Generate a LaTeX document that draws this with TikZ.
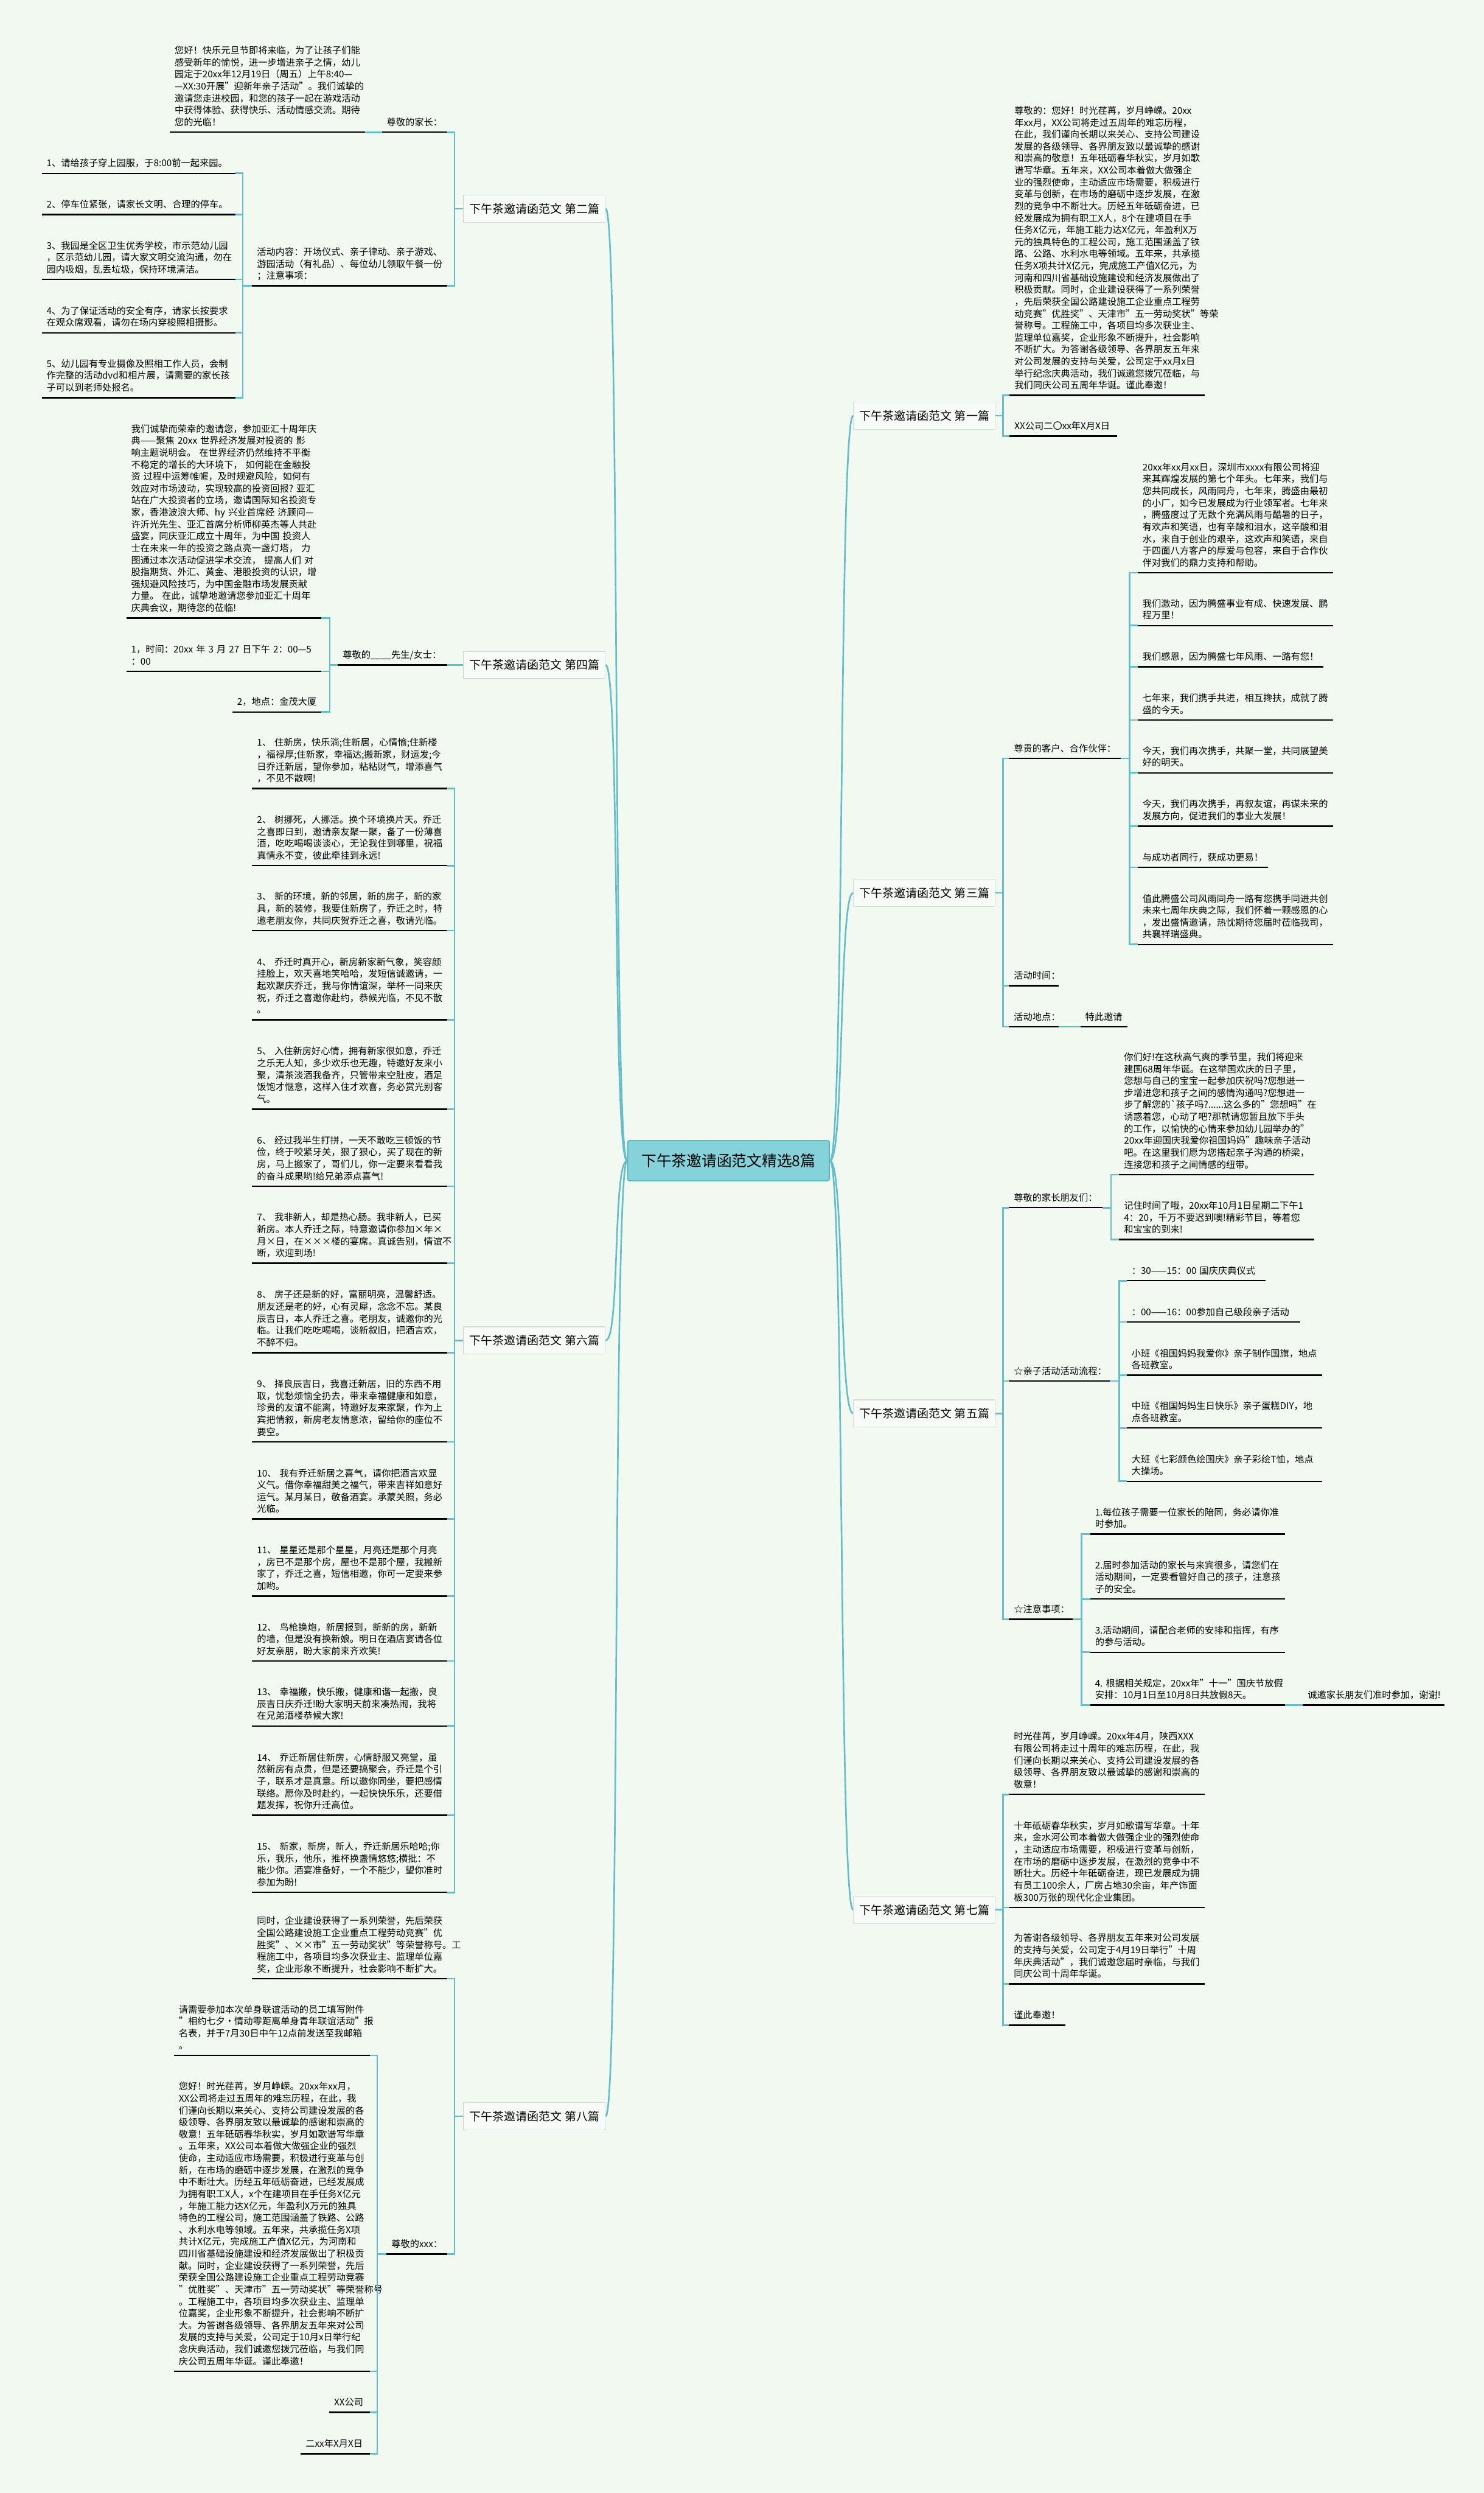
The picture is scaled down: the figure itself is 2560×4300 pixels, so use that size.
\documentclass[tikz,border=0pt]{standalone}
\usepackage{fontspec}
\setmainfont{Noto Sans CJK SC}
\definecolor{bgc}{HTML}{F1F9F1}
\definecolor{tealc}{HTML}{66BFC8}
\definecolor{boxline}{HTML}{D5DDD5}
\definecolor{boxfill}{HTML}{F8FCF8}
\definecolor{rootfill}{HTML}{86D2DA}
\definecolor{rootline}{HTML}{5DB7C1}
\newcommand\tn[5]{%
  \pgfmathsetmacro\tnw{(#3-#2-16)*0.5}%
  \node[tnode,text width=\tnw pt] (#1) at (#2,#4) {#5};
  \draw[uline] (#1.south west) -- (#1.south east);}
\begin{document}
\begin{tikzpicture}[x=0.5pt,y=-0.5pt,
  conn/.style={draw=tealc,line width=1.4pt},
  uline/.style={draw=black,line width=1.3pt},
  tnode/.style={anchor=south west,inner xsep=4pt,inner ysep=0pt,align=left,
    font={\fontsize{8pt}{10.3pt}\selectfont\hyphenpenalty=10000 \exhyphenpenalty=10000 },
    execute at end node={\rule[-5.5pt]{0pt}{5.5pt}}},
  lvl/.style={draw=boxline,fill=boxfill,line width=0.6pt,
    font={\fontsize{10pt}{12pt}\selectfont},minimum height=23.5pt,inner xsep=5pt,inner ysep=0pt},
  root/.style={draw=rootline,fill=rootfill,line width=1pt,rounded corners=1.5pt,
    font={\fontsize{13pt}{15pt}\selectfont},minimum width=174pt,minimum height=34.5pt}]
\fill[bgc] (0,0) rectangle (2560,4300);
\useasboundingbox (0,0) rectangle (2560,4300);

% ---------- centre and level-1 labels ----------
\node[root] (C) at (1257,2002) {下午茶邀请函范文精选8篇};
\node[lvl,anchor=east] (L2) at (1045,360) {下午茶邀请函范文 第二篇};
\node[lvl,anchor=east] (L4) at (1045,1147) {下午茶邀请函范文 第四篇};
\node[lvl,anchor=east] (L6) at (1045,2312) {下午茶邀请函范文 第六篇};
\node[lvl,anchor=east] (L8) at (1045,3650) {下午茶邀请函范文 第八篇};
\node[lvl,anchor=west] (L1) at (1472,717) {下午茶邀请函范文 第一篇};
\node[lvl,anchor=west] (L3) at (1472,1540) {下午茶邀请函范文 第三篇};
\node[lvl,anchor=west] (L5) at (1472,2438) {下午茶邀请函范文 第五篇};
\node[lvl,anchor=west] (L7) at (1472,3294) {下午茶邀请函范文 第七篇};
\foreach \n in {L2,L4,L6,L8} \draw[conn] (C.west) .. controls +(-25,0) and +(25,0) .. (\n.east);
\foreach \n in {L1,L3,L5,L7} \draw[conn] (C.east) .. controls +(25,0) and +(-25,0) .. (\n.west);

% ---------- 第二篇 ----------
\tn{n2a}{659}{771}{228}{尊敬的家长：}
\tn{n2b}{293}{629}{228}{您好！快乐元旦节即将来临，为了让孩子们能\\感受新年的愉悦，进一步增进亲子之情，幼儿\\园定于20xx年12月19日（周五）上午8:40—\\\mbox{—XX:30开展"迎新年亲子活动"。我们诚挚的}\\邀请您走进校园，和您的孩子一起在游戏活动\\中获得体验、获得快乐、活动情感交流。期待\\您的光临！}
\tn{n2c}{435}{771}{493}{活动内容：开场仪式、亲子律动、亲子游戏、\\游园活动（有礼品）、每位幼儿领取午餐一份\\；注意事项：}
\tn{n2i1}{72}{405}{299}{1、请给孩子穿上园服，于8:00前一起来园。}
\tn{n2i2}{72}{405}{370}{2、停车位紧张，请家长文明、合理的停车。}
\tn{n2i3}{72}{405}{482}{3、我园是全区卫生优秀学校，市示范幼儿园\\，区示范幼儿园，请大家文明交流沟通，勿在\\园内吸烟，乱丢垃圾，保持环境清洁。}
\tn{n2i4}{72}{405}{574}{4、为了保证活动的安全有序，请家长按要求\\在观众席观看，请勿在场内穿梭照相摄影。}
\tn{n2i5}{72}{405}{686}{5、幼儿园有专业摄像及照相工作人员，会制\\作完整的活动dvd和相片展，请需要的家长孩\\子可以到老师处报名。}
\draw[conn] (L2.west) -- ++(-15,0) |- (n2a.south east);
\draw[conn] (L2.west) -- ++(-15,0) |- (n2c.south east);
\draw[conn] (n2a.south west) -- (n2b.south east);
\foreach \i in {1,...,5} \draw[conn] (n2c.south west) -- ++(-16,0) |- (n2i\i.south east);

% ---------- 第四篇 ----------
\tn{n4a}{583}{771}{1147}{尊敬的\_\_\_\_先生/女士：}
\tn{n4b}{218}{554}{1066}{我们诚挚而荣幸的邀请您，参加亚汇十周年庆\\\mbox{典——聚焦~20xx~世界经济发展对投资的~影}\\响主题说明会。~在世界经济仍然维持不平衡\\不稳定的增长的大环境下，~如何能在金融投\\资~过程中运筹帷幄，及时规避风险，如何有\\效应对市场波动，实现较高的投资回报?~亚汇\\站在广大投资者的立场，邀请国际知名投资专\\\mbox{家，香港波浪大师、hy~兴业首席经~济顾问—}\\许沂光先生、亚汇首席分析师柳英杰等人共赴\\盛宴，同庆亚汇成立十周年，为中国~投资人\\士在未来一年的投资之路点亮一盏灯塔，~力\\图通过本次活动促进学术交流，~提高人们~对\\股指期货、外汇、黄金、港股投资的认识，增\\强规避风险技巧，为中国金融市场发展贡献\\力量。~在此，诚挚地邀请您参加亚汇十周年\\庆典会议，期待您的莅临!}
\tn{n4c}{218}{554}{1158}{\mbox{1，时间：20xx~年~3~月~27~日下午~2：00—5}\\：00}
\tn{n4d}{401}{554}{1228}{2，地点：金茂大厦}
\draw[conn] (L4.west) -- (n4a.south east);
\foreach \n in {n4b,n4c,n4d} \draw[conn] (n4a.south west) -- ++(-14,0) |- (\n.south east);

% ---------- 第六篇 ----------
\tn{n6i1}{435}{771}{1360}{1、~住新房，快乐淌;住新居，心情愉;住新楼\\，福禄厚;住新家，幸福达;搬新家，财运发;今\\日乔迁新居，望你参加，粘粘财气，增添喜气\\，不见不散啊!}
\tn{n6i2}{435}{771}{1493}{2、~树挪死，人挪活。换个环境换片天。乔迁\\之喜即日到，邀请亲友聚一聚，备了一份薄喜\\酒，吃吃喝喝谈谈心，无论我住到哪里，祝福\\真情永不变，彼此牵挂到永远!}
\tn{n6i3}{435}{771}{1605}{3、~新的环境，新的邻居，新的房子，新的家\\具，新的装修，我要住新房了，乔迁之时，特\\邀老朋友你，共同庆贺乔迁之喜，敬请光临。}
\tn{n6i4}{435}{771}{1759}{4、~乔迁时真开心，新房新家新气象，笑容颜\\挂脸上，欢天喜地笑哈哈，发短信诚邀请，一\\起欢聚庆乔迁，我与你情谊深，举杯一同来庆\\祝，乔迁之喜邀你赴约，恭候光临，不见不散\\。}
\tn{n6i5}{435}{771}{1913}{5、~入住新房好心情，拥有新家很如意，乔迁\\之乐无人知，多少欢乐也无趣，特邀好友来小\\聚，清茶淡酒我备齐，只管带来空肚皮，酒足\\饭饱才惬意，这样入住才欢喜，务必赏光别客\\气。}
\tn{n6i6}{435}{771}{2046}{6、~经过我半生打拼，一天不敢吃三顿饭的节\\俭，终于咬紧牙关，狠了狠心，买了现在的新\\房，马上搬家了，哥们儿，你一定要来看看我\\的奋斗成果哟!给兄弟添点喜气!}
\tn{n6i7}{435}{771}{2179}{7、~我非新人，却是热心肠。我非新人，已买\\新房。本人乔迁之际，特意邀请你参加×年×\\月×日，在×××楼的宴席。真诚告别，情谊不\\断，欢迎到场!}
\tn{n6i8}{435}{771}{2333}{8、~房子还是新的好，富丽明亮，温馨舒适。\\朋友还是老的好，心有灵犀，念念不忘。某良\\辰吉日，本人乔迁之喜。老朋友，诚邀你的光\\临。让我们吃吃喝喝，谈新叙旧，把酒言欢，\\不醉不归。}
\tn{n6i9}{435}{771}{2487}{9、~择良辰吉日，我喜迁新居，旧的东西不用\\取，忧愁烦恼全扔去，带来幸福健康和如意，\\珍贵的友谊不能离，特邀好友来家聚，作为上\\宾把情叙，新房老友情意浓，留给你的座位不\\要空。}
\tn{n6i10}{435}{771}{2620}{10、~我有乔迁新居之喜气，请你把酒言欢显\\义气。借你幸福甜美之福气，带来吉祥如意好\\运气。某月某日，敬备酒宴。承蒙关照，务必\\光临。}
\tn{n6i11}{435}{771}{2753}{11、~星星还是那个星星，月亮还是那个月亮\\，房已不是那个房，屋也不是那个屋，我搬新\\家了，乔迁之喜，短信相邀，你可一定要来参\\加哟。}
\tn{n6i12}{435}{771}{2865}{12、~鸟枪换炮，新居报到，新新的房，新新\\的墙，但是没有换新娘。明日在酒店宴请各位\\好友亲朋，盼大家前来齐欢笑!}
\tn{n6i13}{435}{771}{2977}{13、~幸福搬，快乐搬，健康和谐一起搬，良\\辰吉日庆乔迁!盼大家明天前来凑热闹，我将\\在兄弟酒楼恭候大家!}
\tn{n6i14}{435}{771}{3131}{14、~乔迁新居住新房，心情舒服又亮堂，虽\\然新房有点贵，但是还要搞聚会，乔迁是个引\\子，联系才是真意。所以邀你同坐，要把感情\\联络。愿你及时赴约，一起快快乐乐，还要借\\题发挥，祝你升迁高位。}
\tn{n6i15}{435}{771}{3264}{15、~新家，新房，新人，乔迁新居乐哈哈;你\\乐，我乐，他乐，推杯换盏情悠悠;横批：不\\能少你。酒宴准备好，一个不能少，望你准时\\参加为盼!}
\foreach \i in {1,...,15} \draw[conn] (L6.west) -- ++(-15,0) |- (n6i\i.south east);

% ---------- 第八篇 ----------
\tn{n8a}{435}{771}{3413}{同时，企业建设获得了一系列荣誉，先后荣获\\全国公路建设施工企业重点工程劳动竞赛"优\\胜奖"、××市"五一劳动奖状"等荣誉称号。工\\程施工中，各项目均多次获业主、监理单位嘉\\奖，企业形象不断提升，社会影响不断扩大。}
\tn{n8b}{667}{771}{3888}{尊敬的xxx：}
\tn{n8c}{300}{637}{3545}{请需要参加本次单身联谊活动的员工填写附件\\"相约七夕·情动零距离单身青年联谊活动"报\\名表，并于7月30日中午12点前发送至我邮箱\\。}
\tn{n8d}{300}{637}{4090}{您好！时光荏苒，岁月峥嵘。20xx年xx月，\\XX公司将走过五周年的难忘历程，在此，我\\们谨向长期以来关心、支持公司建设发展的各\\级领导、各界朋友致以最诚挚的感谢和崇高的\\敬意！五年砥砺春华秋实，岁月如歌谱写华章\\。五年来，XX公司本着做大做强企业的强烈\\使命，主动适应市场需要，积极进行变革与创\\新，在市场的磨砺中逐步发展，在激烈的竞争\\中不断壮大。历经五年砥砺奋进，已经发展成\\为拥有职工X人，x个在建项目在手任务X亿元\\，年施工能力达X亿元，年盈利X万元的独具\\特色的工程公司，施工范围涵盖了铁路、公路\\、水利水电等领域。五年来，共承揽任务X项\\共计X亿元，完成施工产值X亿元，为河南和\\四川省基础设施建设和经济发展做出了积极贡\\献。同时，企业建设获得了一系列荣誉，先后\\荣获全国公路建设施工企业重点工程劳动竞赛\\"优胜奖"、天津市"五一劳动奖状"等荣誉称号\\。工程施工中，各项目均多次获业主、监理单\\位嘉奖，企业形象不断提升，社会影响不断扩\\大。为答谢各级领导、各界朋友五年来对公司\\发展的支持与关爱，公司定于10月x日举行纪\\念庆典活动，我们诚邀您拨冗莅临，与我们同\\庆公司五周年华诞。谨此奉邀！}
\tn{n8e}{568}{637}{4161}{XX公司}
\tn{n8f}{519}{637}{4232}{二xx年X月X日}
\draw[conn] (L8.west) -- ++(-15,0) |- (n8a.south east);
\draw[conn] (L8.west) -- ++(-15,0) |- (n8b.south east);
\foreach \n in {n8c,n8d,n8e,n8f} \draw[conn] (n8b.south west) -- ++(-16,0) |- (\n.south east);

% ---------- 第一篇 ----------
\tn{n1a}{1742}{2078}{682}{尊敬的：您好！时光荏苒，岁月峥嵘。20xx\\年xx月，XX公司将走过五周年的难忘历程，\\在此，我们谨向长期以来关心、支持公司建设\\发展的各级领导、各界朋友致以最诚挚的感谢\\和崇高的敬意！五年砥砺春华秋实，岁月如歌\\谱写华章。五年来，XX公司本着做大做强企\\业的强烈使命，主动适应市场需要，积极进行\\变革与创新，在市场的磨砺中逐步发展，在激\\烈的竞争中不断壮大。历经五年砥砺奋进，已\\经发展成为拥有职工X人，8个在建项目在手\\任务X亿元，年施工能力达X亿元，年盈利X万\\元的独具特色的工程公司，施工范围涵盖了铁\\路、公路、水利水电等领域。五年来，共承揽\\任务X项共计X亿元，完成施工产值X亿元，为\\河南和四川省基础设施建设和经济发展做出了\\积极贡献。同时，企业建设获得了一系列荣誉\\，先后荣获全国公路建设施工企业重点工程劳\\动竞赛"优胜奖"、天津市"五一劳动奖状"等荣\\誉称号。工程施工中，各项目均多次获业主、\\监理单位嘉奖，企业形象不断提升，社会影响\\不断扩大。为答谢各级领导、各界朋友五年来\\对公司发展的支持与关爱，公司定于xx月x日\\举行纪念庆典活动，我们诚邀您拨冗莅临，与\\我们同庆公司五周年华诞。谨此奉邀！}
\tn{n1b}{1742}{1927}{752}{XX公司二〇xx年X月X日}
\foreach \n in {n1a,n1b} \draw[conn] (L1.east) -- ++(13,0) |- (\n.south west);

% ---------- 第三篇 ----------
\tn{n3a}{1741}{1933}{1308}{尊贵的客户、合作伙伴：}
\tn{n3b}{1741}{1826}{1700}{活动时间：}
\tn{n3c}{1741}{1826}{1771}{活动地点：}
\tn{n3d}{1864}{1944}{1771}{特此邀请}
\tn{n3a1}{1963}{2299}{988}{20xx年xx月xx日，深圳市xxxx有限公司将迎\\来其辉煌发展的第七个年头。七年来，我们与\\您共同成长，风雨同舟，七年来，腾盛由最初\\的小厂，如今已发展成为行业领军者。七年来\\，腾盛度过了无数个充满风雨与酷暑的日子，\\有欢声和笑语，也有辛酸和泪水，这辛酸和泪\\水，来自于创业的艰辛，这欢声和笑语，来自\\于四面八方客户的厚爱与包容，来自于合作伙\\伴对我们的鼎力支持和帮助。}
\tn{n3a2}{1963}{2299}{1079}{我们激动，因为腾盛事业有成、快速发展、鹏\\程万里！}
\tn{n3a3}{1963}{2283}{1150}{我们感恩，因为腾盛七年风雨、一路有您！}
\tn{n3a4}{1963}{2299}{1242}{七年来，我们携手共进，相互搀扶，成就了腾\\盛的今天。}
\tn{n3a5}{1963}{2299}{1333}{今天，我们再次携手，共聚一堂，共同展望美\\好的明天。}
\tn{n3a6}{1963}{2299}{1425}{今天，我们再次携手，再叙友谊，再谋未来的\\发展方向，促进我们的事业大发展！}
\tn{n3a7}{1963}{2187}{1496}{与成功者同行，获成功更易！}
\tn{n3a8}{1963}{2299}{1629}{值此腾盛公司风雨同舟一路有您携手同进共创\\未来七周年庆典之际，我们怀着一颗感恩的心\\，发出盛情邀请，热忱期待您届时莅临我司，\\共襄祥瑞盛典。}
\foreach \n in {n3a,n3b,n3c} \draw[conn] (L3.east) -- ++(13,0) |- (\n.south west);
\foreach \i in {1,...,8} \draw[conn] (n3a.south east) -- ++(15,0) |- (n3a\i.south west);
\draw[conn] (n3c.south east) -- (n3d.south west);

% ---------- 第五篇 ----------
\tn{n5a}{1741}{1901}{2083}{尊敬的家长朋友们：}
\tn{n5a1}{1931}{2267}{2026}{你们好!在这秋高气爽的季节里，我们将迎来\\建国68周年华诞。在这举国欢庆的日子里，\\您想与自己的宝宝一起参加庆祝吗?您想进一\\步增进您和孩子之间的感情沟通吗?您想进一\\\mbox{步了解您的\textasciigrave{}孩子吗?......这么多的"您想吗"在}\\诱惑着您，心动了吧?那就请您暂且放下手头\\的工作，以愉快的心情来参加幼儿园举办的"\\20xx年迎国庆我爱你祖国妈妈"趣味亲子活动\\吧。在这里我们愿为您搭起亲子沟通的桥梁，\\连接您和孩子之间情感的纽带。}
\tn{n5a2}{1931}{2267}{2138}{记住时间了哦，20xx年10月1日星期二下午1\\4：20，千万不要迟到噢!精彩节目，等着您\\和宝宝的到来!}
\tn{n5b}{1741}{1914}{2382}{☆亲子活动活动流程：}
\tn{n5b1}{1944}{2183}{2209}{\mbox{：30——15：00~国庆庆典仪式}}
\tn{n5b2}{1944}{2243}{2280}{\mbox{：00——16：00参加自己级段亲子活动}}
\tn{n5b3}{1944}{2280}{2372}{小班《祖国妈妈我爱你》亲子制作国旗，地点\\各班教室。}
\tn{n5b4}{1944}{2280}{2463}{中班《祖国妈妈生日快乐》亲子蛋糕DIY，地\\点各班教室。}
\tn{n5b5}{1944}{2280}{2555}{大班《七彩颜色绘国庆》亲子彩绘T恤，地点\\大操场。}
\tn{n5c}{1741}{1850}{2793}{☆注意事项：}
\tn{n5c1}{1881}{2216}{2646}{1.每位孩子需要一位家长的陪同，务必请你准\\时参加。}
\tn{n5c2}{1881}{2216}{2758}{2.届时参加活动的家长与来宾很多，请您们在\\活动期间，一定要看管好自己的孩子，注意孩\\子的安全。}
\tn{n5c3}{1881}{2216}{2850}{3.活动期间，请配合老师的安排和指挥，有序\\的参与活动。}
\tn{n5c4}{1881}{2216}{2941}{\mbox{4.~根据相关规定，20xx年"十一"国庆节放假}\\安排：10月1日至10月8日共放假8天。}
\tn{n5d}{2248}{2491}{2941}{诚邀家长朋友们准时参加，谢谢!}
\foreach \n in {n5a,n5b,n5c} \draw[conn] (L5.east) -- ++(13,0) |- (\n.south west);
\foreach \n in {n5a1,n5a2} \draw[conn] (n5a.south east) -- ++(15,0) |- (\n.south west);
\foreach \i in {1,...,5} \draw[conn] (n5b.south east) -- ++(16,0) |- (n5b\i.south west);
\foreach \i in {1,...,4} \draw[conn] (n5c.south east) -- ++(15,0) |- (n5c\i.south west);
\draw[conn] (n5c4.south east) -- (n5d.south west);

% ---------- 第七篇 ----------
\tn{n7a}{1741}{2078}{3095}{时光荏苒，岁月峥嵘。20xx年4月，陕西XXX\\有限公司将走过十周年的难忘历程，在此，我\\们谨向长期以来关心、支持公司建设发展的各\\级领导、各界朋友致以最诚挚的感谢和崇高的\\敬意！}
\tn{n7b}{1741}{2078}{3290}{十年砥砺春华秋实，岁月如歌谱写华章。十年\\来，金水河公司本着做大做强企业的强烈使命\\，主动适应市场需要，积极进行变革与创新，\\在市场的磨砺中逐步发展，在激烈的竞争中不\\断壮大。历经十年砥砺奋进，现已发展成为拥\\有员工100余人，厂房占地30余亩，年产饰面\\板300万张的现代化企业集团。}
\tn{n7c}{1741}{2078}{3422}{为答谢各级领导、各界朋友五年来对公司发展\\的支持与关爱，公司定于4月19日举行"十周\\年庆典活动"，我们诚邀您届时亲临，与我们\\同庆公司十周年华诞。}
\tn{n7d}{1741}{1837}{3493}{谨此奉邀！}
\foreach \n in {n7a,n7b,n7c,n7d} \draw[conn] (L7.east) -- ++(13,0) |- (\n.south west);
\end{tikzpicture}
\end{document}
